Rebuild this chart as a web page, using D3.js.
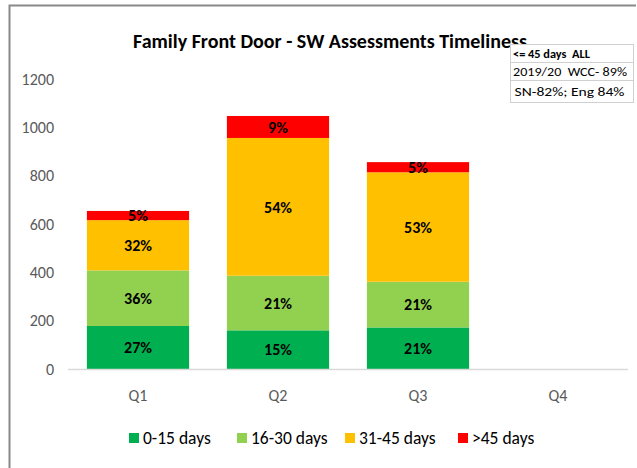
<!DOCTYPE html>
<html>
<head>
<meta charset="utf-8">
<script src="https://cdn.jsdelivr.net/npm/d3@7"></script>
<style>
	body { margin: 0; background: #fff; }
	svg { display: block; font-family: Carlito, "Liberation Sans Narrow", Lato, sans-serif; }
</style>
</head>
<body>
<div id="chart"></div>
<script>
// data
const quarters = ['Q1', 'Q2', 'Q3', 'Q4'];
const bands = ['0-15 days', '16-30 days', '31-45 days', '>45 days'];
const colors = ['#00b050', '#92d050', '#ffc000', '#ff0000'];
const counts0to15 = [178, 160, 172, 0];
const counts16to30 = [230, 226, 189, 0];
const counts31to45 = [208, 570, 453, 0];
const countsOver45 = [38, 91, 42, 0];
const pctLabels = [
	['27%', '36%', '32%', '5%'],
	['15%', '21%', '54%', '9%'],
	['21%', '21%', '53%', '5%'],
	[]
];
const yTicks = [0, 200, 400, 600, 800, 1000, 1200];
const noteRows = ['<= 45 days  ALL', '2019/20  WCC- 89%', 'SN-82%; Eng 84%'];

const width = 637, height = 468;
const svg = d3.select('#chart').append('svg')
	.attr('width', width)
	.attr('height', height);

// outer frame (top and left edges only are visible)
svg.append('path')
	.attr('d', 'M9.5,' + height + 'V5.5H636')
	.attr('fill', 'none')
	.attr('stroke', '#898989')
	.attr('stroke-width', 2);

let table = quarters.map((q, i) => ({
	q: q,
	'0-15 days': counts0to15[i],
	'16-30 days': counts16to30[i],
	'31-45 days': counts31to45[i],
	'>45 days': countsOver45[i]
}));

let x = d3.scaleBand().domain(quarters).range([68, 628]).paddingInner(0.27).paddingOuter(0.135);
let y = d3.scaleLinear().domain([0, 1200]).range([369, 79]);

let stack = d3.stack().keys(bands)(table);

let layers = svg.append('g').selectAll('g')
	.data(stack)
	.enter().append('g')
	.attr('fill', (d, i) => colors[i]);

layers.selectAll('rect')
	.data(d => d)
	.enter().append('rect')
	.attr('x', d => x(d.data.q))
	.attr('y', d => y(d[1]))
	.attr('width', x.bandwidth())
	.attr('height', d => y(d[0]) - y(d[1]));

// percent labels in the middle of each segment
stack.forEach((layer, k) => {
	layer.forEach((d, i) => {
		let txt = pctLabels[i][k];
		if (!txt) return;
		svg.append('text')
			.attr('x', x(d.data.q) + x.bandwidth() / 2)
			.attr('y', (y(d[0]) + y(d[1])) / 2)
			.attr('dy', '0.36em')
			.attr('text-anchor', 'middle')
			.attr('font-size', 16)
			.attr('font-weight', 'bold')
			.attr('fill', '#000')
			.text(txt);
	});
});

// axis line
svg.append('line')
	.attr('x1', 68).attr('x2', 628)
	.attr('y1', y(0) + 0.5).attr('y2', y(0) + 0.5)
	.attr('stroke', '#d9d9d9')
	.attr('stroke-width', 1.5);

// y tick labels
svg.append('g').selectAll('text')
	.data(yTicks)
	.enter().append('text')
	.attr('x', 54)
	.attr('y', d => y(d))
	.attr('dy', '0.36em')
	.attr('text-anchor', 'end')
	.attr('font-size', 16)
	.attr('fill', '#595959')
	.text(d => d);

// x tick labels
svg.append('g').selectAll('text')
	.data(quarters)
	.enter().append('text')
	.attr('x', d => x(d) + x.bandwidth() / 2)
	.attr('y', 401)
	.attr('text-anchor', 'middle')
	.attr('font-size', 16)
	.attr('fill', '#595959')
	.text(d => d);

// title
svg.append('text')
	.attr('x', 330)
	.attr('y', 48)
	.attr('text-anchor', 'middle')
	.attr('font-size', 20)
	.attr('font-weight', 'bold')
	.attr('fill', '#000')
	.text('Family Front Door - SW Assessments Timeliness');

// legend
let legendX = [129, 237, 345, 458];
let legend = svg.append('g').selectAll('g')
	.data(bands)
	.enter().append('g')
	.attr('transform', (d, i) => 'translate(' + legendX[i] + ',0)');
legend.append('rect')
	.attr('x', 0).attr('y', 433)
	.attr('width', 10).attr('height', 10)
	.attr('fill', (d, i) => colors[i]);
legend.append('text')
	.attr('x', 14)
	.attr('y', 444)
	.attr('font-size', 17.5)
	.attr('fill', '#000')
	.text(d => d);

// note box, text stretched like the pasted table
let note = svg.append('g').attr('transform', 'translate(510.5,44.5)');
let rowH = [18, 18, 22];
let rowTextW = [77, 114, 110];
let rowY = 0;
noteRows.forEach((t, i) => {
	note.append('rect')
		.attr('x', 0).attr('y', rowY)
		.attr('width', 123).attr('height', rowH[i])
		.attr('fill', '#fff')
		.attr('stroke', '#d0d0d0');
	note.append('text')
		.attr('x', i == 2 ? 4 : 2.5)
		.attr('y', rowY + rowH[i] / 2)
		.attr('dy', '0.36em')
		.attr('font-size', 12)
		.attr('font-weight', i == 0 ? 'bold' : 'normal')
		.attr('fill', '#000')
		.style('white-space', 'pre')
		.attr('textLength', rowTextW[i])
		.attr('lengthAdjust', 'spacingAndGlyphs')
		.text(t);
	rowY += rowH[i];
});
</script>
</body>
</html>
